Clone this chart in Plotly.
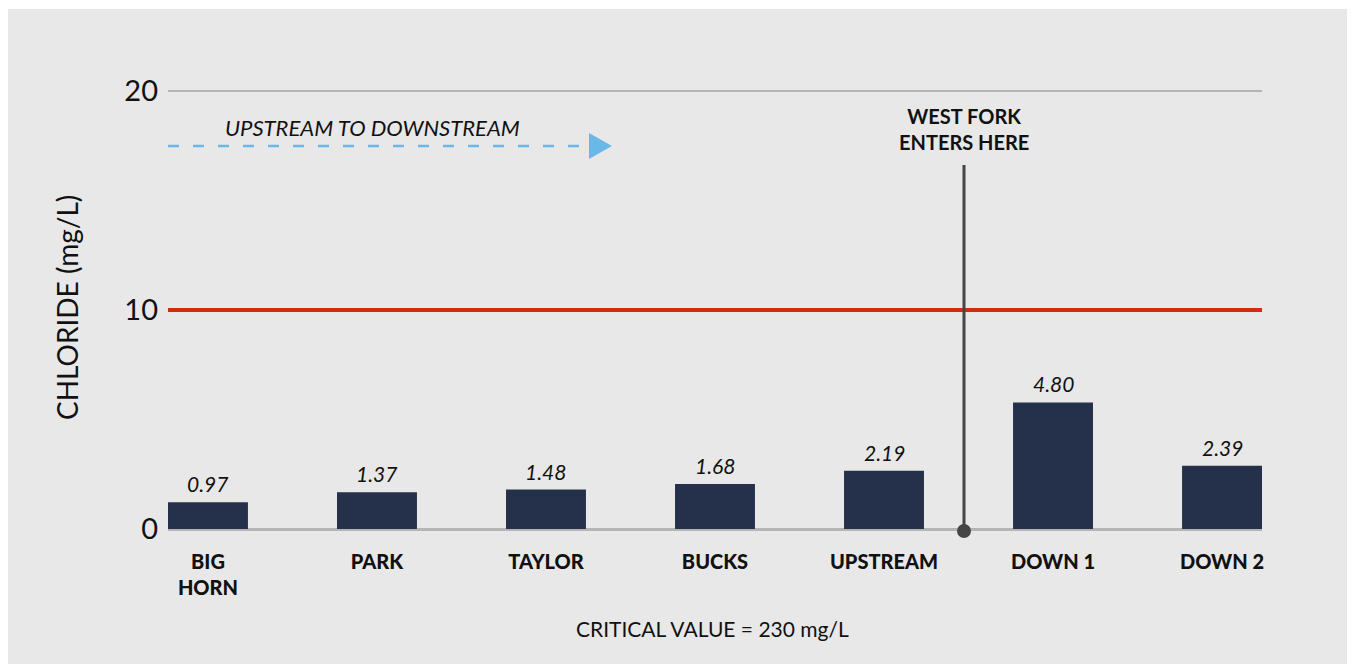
import plotly.graph_objects as go

categories = ["BIG<br>HORN", "PARK", "TAYLOR", "BUCKS", "UPSTREAM", "DOWN 1", "DOWN 2"]
bar_heights = [1.22, 1.68, 1.80, 2.05, 2.66, 5.78, 2.89]
value_labels = ["0.97", "1.37", "1.48", "1.68", "2.19", "4.80", "2.39"]
y_ticks = [0, 10, 20]
critical_line = 10

FONT = "Lato"
L, R, T, B = 168, 89, 90, 135
W, H = 1351, 664
PW, PH = W - L - R, H - T - B


def px(x):
    return (x - L) / PW


def py(y):
    return (H - B - y) / PH


fig = go.Figure()
fig.add_trace(go.Bar(
    x=categories, y=bar_heights,
    marker=dict(color="#25314a", line=dict(width=0)),
    cliponaxis=False, width=0.473,
))

shapes = [
    dict(type="rect", xref="paper", yref="paper", x0=px(8), x1=px(1347), y0=py(664), y1=py(9),
         fillcolor="#e8e8e8", line=dict(width=0), layer="below"),
    dict(type="line", xref="paper", yref="y", x0=0, x1=1, y0=critical_line, y1=critical_line,
         line=dict(color="#d42a12", width=4), layer="above"),
    dict(type="line", xref="paper", yref="paper", x0=px(964), x1=px(964), y0=py(529), y1=py(165),
         line=dict(color="#454545", width=3)),
    dict(type="circle", xref="paper", yref="paper", xsizemode="pixel", ysizemode="pixel",
         xanchor=px(964), yanchor=py(531), x0=-7, x1=7, y0=-7, y1=7,
         fillcolor="#454545", line=dict(width=0)),
    dict(type="line", xref="paper", yref="paper", x0=px(168), x1=px(590), y0=py(146), y1=py(146),
         line=dict(color="#6ab8e8", width=2.5, dash="11px,14px")),
    dict(type="path", xref="paper", yref="paper",
         path=f"M {px(589)} {py(133)} L {px(612)} {py(146)} L {px(589)} {py(159)} Z",
         fillcolor="#6ab8e8", line=dict(width=0)),
]

def ann(text, x, y, size, **kw):
    font = dict(family=FONT, size=size, color="#111111")
    font.update(kw.pop("font", {}))
    return dict(text=text, xref="paper", yref="paper", x=px(x), y=py(y), xanchor="center",
                yanchor="middle", showarrow=False, font=font, **kw)

annotations = [
    ann("<b>WEST FORK<br>ENTERS HERE</b>", 964, 129, 20, align="center",
        font=dict(weight=800)),
    ann("UPSTREAM TO DOWNSTREAM", 372, 127, 22, font=dict(style="italic")),
    ann("CRITICAL VALUE = 230 mg/L", 712, 628, 21),
    ann("CHLORIDE (mg/L)", 67, 308, 28, textangle=-90),
]
for cat, h, lab in zip(categories, bar_heights, value_labels):
    annotations.append(dict(
        text=lab, xref="x", yref="y", x=cat, y=h, xanchor="center", yanchor="bottom",
        yshift=4, showarrow=False,
        font=dict(family=FONT, size=21, color="#111111", style="italic"),
    ))

fig.update_layout(
    width=W, height=H,
    margin=dict(l=L, r=R, t=T, b=B, pad=0),
    paper_bgcolor="white", plot_bgcolor="rgba(0,0,0,0)",
    showlegend=False,
    shapes=shapes, annotations=annotations,
    xaxis=dict(type="category", range=[-0.2365, 6.2365], showgrid=False, zeroline=False,
               showline=False, ticks="", ticklabelstandoff=19,
               tickfont=dict(family=FONT, size=20, color="#111111", weight=900)),
    yaxis=dict(range=[0, 20.05], tickvals=y_ticks, showgrid=True, gridcolor="#b5b5b5", gridwidth=2,
               zeroline=True, zerolinecolor="#b5b5b5", zerolinewidth=3, showline=False,
               ticks="", ticklabelstandoff=9,
               tickfont=dict(family=FONT, size=29, color="#111111")),
)

fig.write_html("out.html")
